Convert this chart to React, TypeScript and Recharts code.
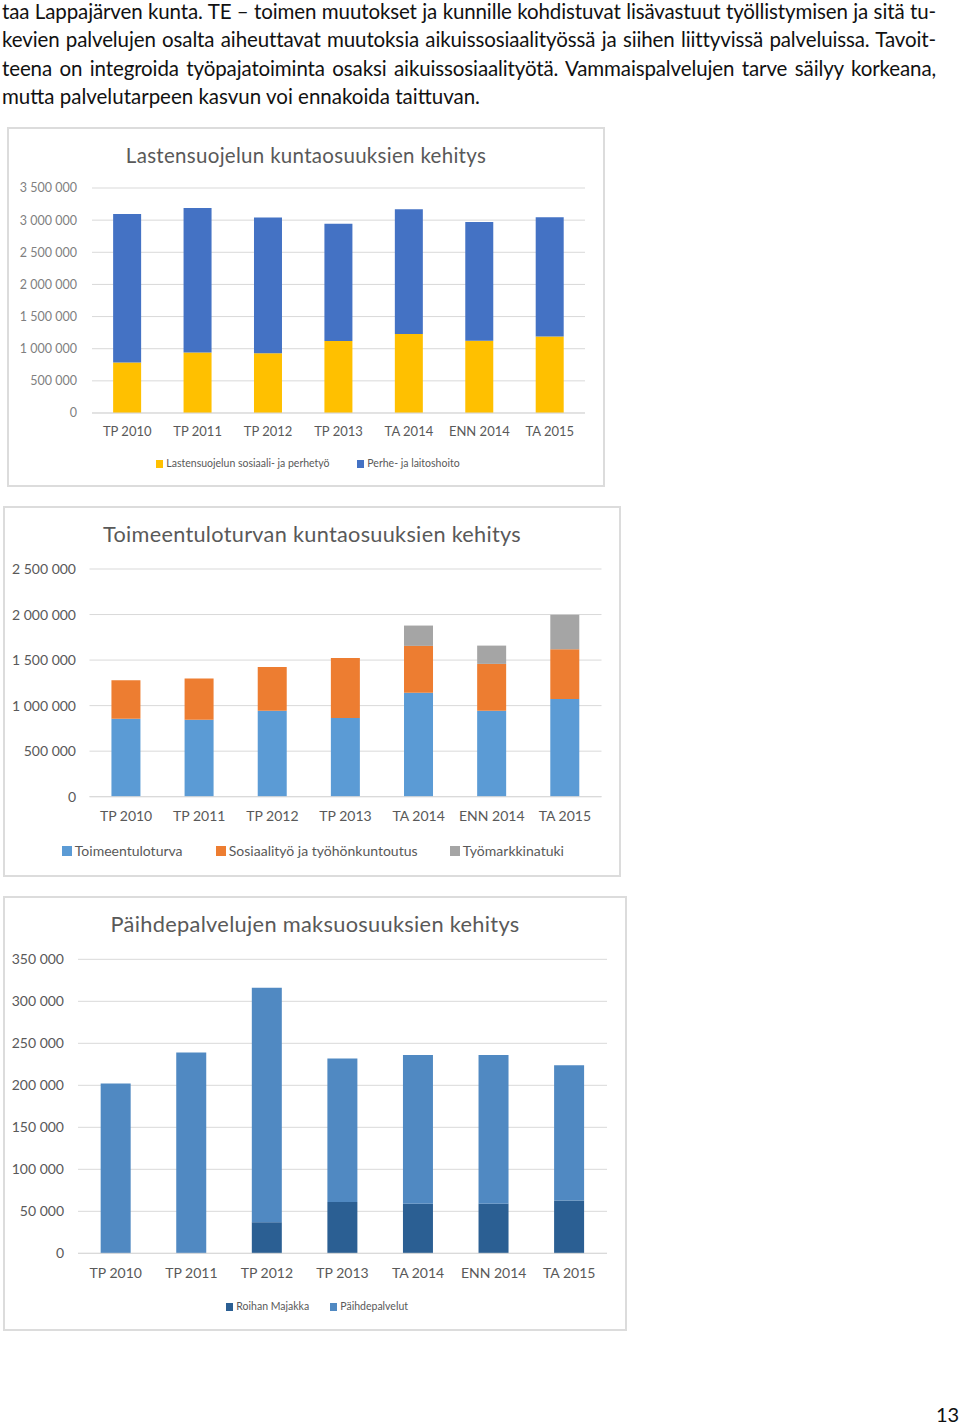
import React from "react";
import { BarChart, Bar, XAxis, YAxis, CartesianGrid } from "recharts";

const PARAGRAPH_LINES = [
  "taa Lappajärven kunta. TE – toimen muutokset ja kunnille kohdistuvat lisävastuut työllistymisen ja sitä tu-",
  "kevien palvelujen osalta aiheuttavat muutoksia aikuissosiaalityössä ja siihen liittyvissä palveluissa. Tavoit-",
  "teena on integroida työpajatoiminta osaksi aikuissosiaalityötä. Vammaispalvelujen tarve säilyy korkeana,",
  "mutta palvelutarpeen kasvun voi ennakoida taittuvan.",
];
const PAGE_NUMBER = "13";

const categories = ["TP 2010", "TP 2011", "TP 2012", "TP 2013", "TA 2014", "ENN 2014", "TA 2015"];

// Chart 1: Lastensuojelu
const chart1Title = "Lastensuojelun kuntaosuuksien kehitys";
const lsSosiaali = [787000, 940000, 930000, 1120000, 1230000, 1125000, 1190000];
const lsLaitos = [2308000, 2250000, 2110000, 1825000, 1940000, 1845000, 1855000];
const chart1Ticks = [0, 500000, 1000000, 1500000, 2000000, 2500000, 3000000, 3500000];
const chart1Series = ["Lastensuojelun sosiaali- ja perhetyö", "Perhe- ja laitoshoito"];

// Chart 2: Toimeentuloturva
const chart2Title = "Toimeentuloturvan kuntaosuuksien kehitys";
const toimeentuloturva = [857000, 846000, 945000, 865000, 1140000, 945000, 1074000];
const sosiaalityo = [422000, 451000, 480000, 659000, 516000, 513000, 546000];
const tyomarkkinatuki = [0, 0, 0, 0, 223000, 201000, 377000];
const chart2Ticks = [0, 500000, 1000000, 1500000, 2000000, 2500000];
const chart2Series = ["Toimeentuloturva", "Sosiaalityö ja työhönkuntoutus", "Työmarkkinatuki"];

// Chart 3: Päihdepalvelut
const chart3Title = "Päihdepalvelujen maksuosuuksien kehitys";
const roihanMajakka = [0, 0, 37000, 61000, 59000, 59000, 63000];
const paihdepalvelut = [202000, 239000, 279000, 171000, 177000, 177000, 161000];
const chart3Ticks = [0, 50000, 100000, 150000, 200000, 250000, 300000, 350000];
const chart3Series = ["Roihan Majakka", "Päihdepalvelut"];

const data1 = categories.map((c, i) => ({ name: c, a: lsSosiaali[i], b: lsLaitos[i] }));
const data2 = categories.map((c, i) => ({ name: c, a: toimeentuloturva[i], b: sosiaalityo[i], c: tyomarkkinatuki[i] }));
const data3 = categories.map((c, i) => ({ name: c, a: roihanMajakka[i], b: paihdepalvelut[i] }));

const fmt = (v: number) => String(v).replace(/\B(?=(\d{3})+(?!\d))/g, " ");

const FONT = "Lato, 'Open Sans', sans-serif";
const GRAY = "#595959";
const GRID = "#d9d9d9";

type FrameProps = {
  left: number; top: number; width: number; height: number;
  title: string; titleSize: number;
  children: React.ReactNode;
  legend: { label: string; color: string; x: number }[];
  legendY: number; legendSize: number;
};

function Frame(p: FrameProps) {
  return (
    <div style={{ position: "absolute", left: p.left, top: p.top, width: p.width, height: p.height, boxSizing: "border-box", border: "2px solid #dcdcdc", background: "#fff", overflow: "hidden" }}>
      <div style={{ position: "absolute", left: -2, top: -2 }}>{p.children}</div>
      <div style={{ position: "absolute", left: -2, top: 28 - 2 - p.titleSize * 0.65, width: p.width, textAlign: "center", fontFamily: FONT, fontSize: p.titleSize, color: GRAY, whiteSpace: "nowrap", lineHeight: "1.3", letterSpacing: 0.3 }}>{p.title}</div>
      {p.legend.map((l) => (
        <div key={l.label} style={{ position: "absolute", left: l.x - 2, top: p.legendY - 2 - p.legendSize * 0.65, fontFamily: FONT, fontSize: p.legendSize, color: GRAY, whiteSpace: "nowrap", lineHeight: "1.3", display: "flex", alignItems: "center" }}>
          <span style={{ display: "inline-block", width: p.legendSize * 0.7, height: p.legendSize * 0.7, background: l.color, marginRight: 3 }} />
          {l.label}
        </div>
      ))}
    </div>
  );
}

export default function App() {
  return (
    <div style={{ position: "absolute", left: 0, top: 0, width: 960, height: 1425, background: "#fff", overflow: "hidden" }}>
      <div style={{ position: "absolute", left: 2, top: -3, width: 934, fontFamily: FONT, fontSize: 20.5, color: "#111", lineHeight: "28.3px" }}>
        {PARAGRAPH_LINES.map((line, i) => (
          <div key={i} style={{ whiteSpace: "nowrap", letterSpacing: i < 3 ? -0.12 : 0, textAlign: i < 3 ? "justify" : "left", textAlignLast: i < 3 ? "justify" : "left" } as React.CSSProperties}>{line}</div>
        ))}
      </div>

      <Frame left={7} top={127} width={598} height={360} title={chart1Title} titleSize={20.5}
        legendY={337} legendSize={10.5}
        legend={[{ label: chart1Series[0], color: "#FFC000", x: 149 }, { label: chart1Series[1], color: "#4472C4", x: 350 }]}>
        <BarChart width={598} height={360} data={data1} margin={{ top: 61, right: 20, bottom: 44, left: 0 }} barCategoryGap="30%">
          <CartesianGrid vertical={false} stroke={GRID} />
          <XAxis dataKey="name" height={30} axisLine={{ stroke: GRID }} tickLine={false} tickSize={0} tickMargin={14} tick={{ fill: GRAY, fontSize: 13, fontFamily: FONT }} interval={0} />
          <YAxis width={85} domain={[0, 3500000]} ticks={chart1Ticks} tickFormatter={fmt} axisLine={false} tickLine={false} tickSize={0} tickMargin={15} tick={{ fill: "#7f7f7f", fontSize: 12.5, fontFamily: FONT }} />
          <Bar dataKey="a" stackId="s" fill="#FFC000" isAnimationActive={false} />
          <Bar dataKey="b" stackId="s" fill="#4472C4" isAnimationActive={false} />
        </BarChart>
      </Frame>

      <Frame left={3} top={506} width={618} height={371} title={chart2Title} titleSize={21.7}
        legendY={345} legendSize={14}
        legend={[{ label: chart2Series[0], color: "#5B9BD5", x: 59 }, { label: chart2Series[1], color: "#ED7D31", x: 213 }, { label: chart2Series[2], color: "#A5A5A5", x: 447 }]}>
        <BarChart width={618} height={371} data={data2} margin={{ top: 63, right: 19.5, bottom: 50.3, left: 0 }} barCategoryGap="30%">
          <CartesianGrid vertical={false} stroke={GRID} />
          <XAxis dataKey="name" height={30} axisLine={{ stroke: GRID }} tickLine={false} tickSize={0} tickMargin={14} tick={{ fill: GRAY, fontSize: 14, fontFamily: FONT }} interval={0} />
          <YAxis width={86.5} domain={[0, 2500000]} ticks={chart2Ticks} tickFormatter={fmt} axisLine={false} tickLine={false} tickSize={0} tickMargin={13.5} tick={{ fill: GRAY, fontSize: 14, fontFamily: FONT }} />
          <Bar dataKey="a" stackId="s" fill="#5B9BD5" isAnimationActive={false} />
          <Bar dataKey="b" stackId="s" fill="#ED7D31" isAnimationActive={false} />
          <Bar dataKey="c" stackId="s" fill="#A5A5A5" isAnimationActive={false} />
        </BarChart>
      </Frame>

      <Frame left={3} top={896} width={624} height={435} title={chart3Title} titleSize={21.8}
        legendY={411} legendSize={10.5}
        legend={[{ label: chart3Series[0], color: "#2B5F93", x: 223 }, { label: chart3Series[1], color: "#5089C2", x: 327 }]}>
        <BarChart width={624} height={435} data={data3} margin={{ top: 63.3, right: 20, bottom: 47.7, left: 0 }} barCategoryGap="30%">
          <CartesianGrid vertical={false} stroke={GRID} />
          <XAxis dataKey="name" height={30} axisLine={{ stroke: GRID }} tickLine={false} tickSize={0} tickMargin={15} tick={{ fill: GRAY, fontSize: 14, fontFamily: FONT }} interval={0} />
          <YAxis width={75} domain={[0, 350000]} ticks={chart3Ticks} tickFormatter={fmt} axisLine={false} tickLine={false} tickSize={0} tickMargin={14} tick={{ fill: GRAY, fontSize: 14, fontFamily: FONT }} />
          <Bar dataKey="a" stackId="s" fill="#2B5F93" isAnimationActive={false} />
          <Bar dataKey="b" stackId="s" fill="#5089C2" isAnimationActive={false} />
        </BarChart>
      </Frame>

      <div style={{ position: "absolute", left: 936, top: 1402, fontFamily: FONT, fontSize: 20, color: "#111" }}>{PAGE_NUMBER}</div>
    </div>
  );
}
